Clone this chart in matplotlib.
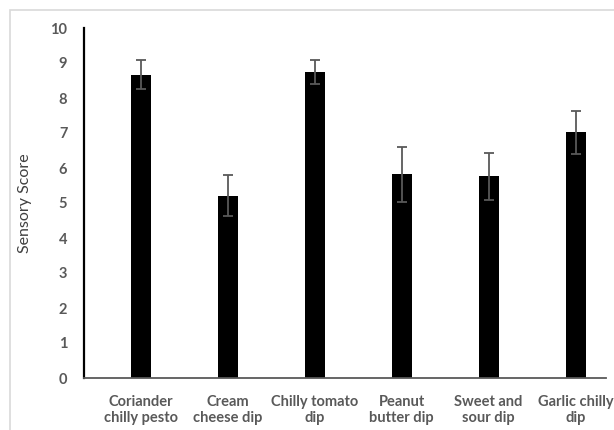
import matplotlib.pyplot as plt
from matplotlib.patches import Rectangle

# sensory scores for each dip (mean and standard deviation)
dips = ["Coriander\nchilly pesto", "Cream\ncheese dip", "Chilly tomato\ndip",
        "Peanut\nbutter dip", "Sweet and\nsour dip", "Garlic chilly\ndip"]
scores = [8.67, 5.21, 8.75, 5.82, 5.76, 7.02]
errors = [0.41, 0.58, 0.35, 0.79, 0.68, 0.61]

W, H = 614, 430
grey = "#595959"
plt.rcParams["font.family"] = ["Lato", "DejaVu Sans"]

fig = plt.figure(figsize=(W / 100, H / 100), dpi=100)
ax = fig.add_axes([84 / W, 1 - 378 / H, 522 / W, 350 / H])

x = range(len(dips))
ax.bar(x, scores, width=0.23, color="black", zorder=2)
ax.errorbar(x, scores, yerr=errors, fmt="none", ecolor=grey,
            elinewidth=1.3, capsize=3.5, capthick=1.3, zorder=3)

ax.set_xlim(-0.65, 5.35)
ax.set_ylim(0, 10)
ax.set_yticks(range(0, 11))
ax.set_xticks(list(x))
ax.set_xticklabels(dips, fontsize=10.5, fontweight="bold", color=grey,
                   linespacing=1.25, multialignment="center")
for lbl in ax.get_yticklabels():
    lbl.set_fontweight("bold")
    lbl.set_color(grey)
    lbl.set_fontsize(10.5)
ax.tick_params(axis="both", length=0)
ax.tick_params(axis="y", pad=12)
ax.tick_params(axis="x", pad=12)

ax.set_ylabel("Sensory Score", fontsize=11.5, color="#404040", labelpad=13)

for s in ("top", "right"):
    ax.spines[s].set_visible(False)
ax.spines["left"].set_color("black")
ax.spines["left"].set_linewidth(1.6)
ax.spines["bottom"].set_color(grey)
ax.spines["bottom"].set_linewidth(1.3)

# light chart-area frame
fig.add_artist(Rectangle((10 / W, -0.05), 1.1, 1 - 10 / H + 0.05,
                         transform=fig.transFigure, fill=False,
                         edgecolor="#d9d9d9", linewidth=1.2))

fig.savefig("out.png", dpi=100)
